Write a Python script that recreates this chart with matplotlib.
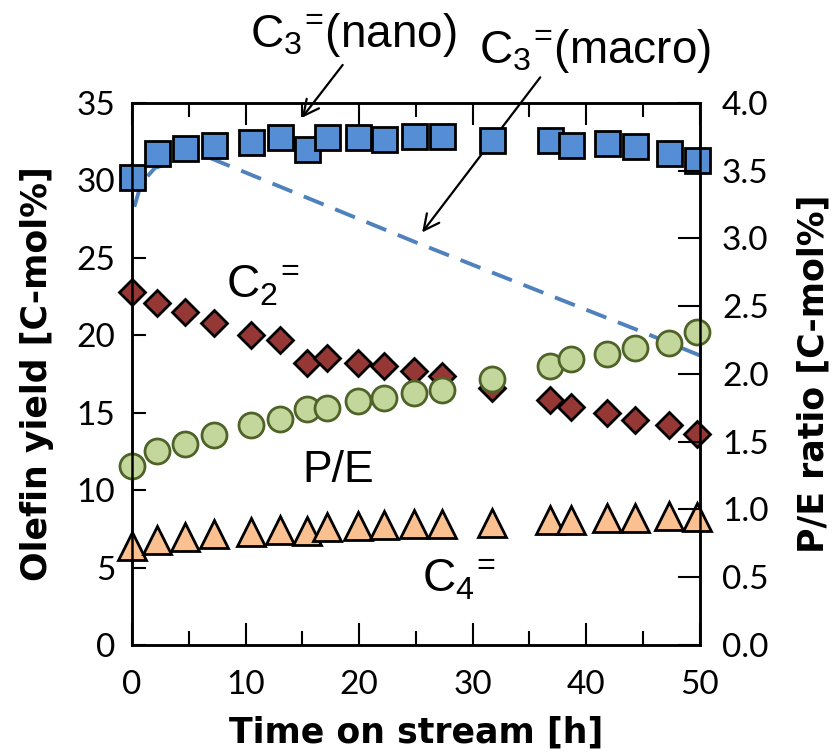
import numpy as np
import matplotlib
matplotlib.use('Agg')
import matplotlib.pyplot as plt
from matplotlib.ticker import MultipleLocator, FormatStrFormatter

plt.rcParams['font.family'] = ['Lato', 'DejaVu Sans']
plt.rcParams['mathtext.fontset'] = 'custom'
plt.rcParams['mathtext.rm'] = 'Liberation Sans'
plt.rcParams['mathtext.it'] = 'Liberation Sans'

# time on stream [h]
times = [0.0, 2.2, 4.7, 7.2, 10.5, 13.0, 15.4, 17.2, 19.9, 22.2,
         24.8, 27.3, 31.7, 36.8, 38.7, 41.8, 44.3, 47.3, 49.8]

# olefin yields [C-mol%]
c3_nano = [30.2, 31.8, 32.1, 32.3, 32.5, 32.8, 32.0, 32.8, 32.8, 32.7,
           32.9, 32.9, 32.6, 32.6, 32.3, 32.4, 32.2, 31.8, 31.3]
c2 = [22.8, 22.1, 21.5, 20.8, 20.0, 19.7, 18.2, 18.5, 18.2, 18.0,
      17.7, 17.4, 16.6, 15.8, 15.4, 15.0, 14.5, 14.2, 13.6]
c4 = [6.4, 6.8, 7.0, 7.15, 7.3, 7.4, 7.35, 7.6, 7.7, 7.75,
      7.8, 7.8, 7.9, 8.1, 8.1, 8.2, 8.2, 8.3, 8.25]

# P/E ratio (right axis)
pe_ratio = [1.32, 1.43, 1.48, 1.55, 1.62, 1.67, 1.74, 1.75, 1.80, 1.82,
            1.86, 1.88, 1.96, 2.06, 2.11, 2.15, 2.19, 2.23, 2.31]

# macro-catalyst C3= trend (dashed)
macro_t = [0.2, 0.8, 2.0, 4.0, 6.7, 25.0, 45.0, 50.0]
macro_c3 = [28.3, 29.8, 30.8, 31.3, 31.5, 26.0, 20.2, 18.7]

fig = plt.figure(figsize=(8.36, 7.54), dpi=100)
ax = fig.add_axes([0.158, 0.1446, 0.679, 0.7188])
ax2 = ax.twinx()

ax.plot(macro_t, macro_c3, color='#4F81BD', lw=2.8, dashes=(5.5, 3.2), zorder=2)
ax.plot(times, c2, ls='none', marker='D', ms=13, mfc='#953735', mec='black', mew=2,
        zorder=3, clip_on=False)
ax.plot(times, c4, ls='none', marker='^', ms=20, mfc='#FAC090', mec='black', mew=2,
        zorder=3, clip_on=False)
ax.plot(times, c3_nano, ls='none', marker='s', ms=18, mfc='#558ED5', mec='black', mew=2,
        zorder=4, clip_on=False)
ax2.plot(times, pe_ratio, ls='none', marker='o', ms=18, mfc='#C3D69B', mec='#4F6228',
         mew=2, clip_on=False)

ax.set_xlim(0, 50)
ax.set_ylim(0, 35)
ax2.set_ylim(0, 4.0)

ax.xaxis.set_major_locator(MultipleLocator(10))
ax.xaxis.set_minor_locator(MultipleLocator(5))
ax.yaxis.set_major_locator(MultipleLocator(5))
ax2.yaxis.set_major_locator(MultipleLocator(0.5))
ax2.yaxis.set_major_formatter(FormatStrFormatter('%.1f'))

ax.tick_params(axis='x', which='major', direction='in', length=16, width=1.5,
               top=True, labelsize=24, pad=18)
ax.tick_params(axis='x', which='minor', direction='in', length=10, width=1.5, top=True)
ax.tick_params(axis='y', which='major', direction='in', length=10, width=1.5,
               labelsize=24, pad=12)
# longer marks at multiples of 10 on the left axis
ax.set_yticks([10, 20, 30], minor=True)
ax.tick_params(axis='y', which='minor', direction='in', length=16, width=1.5)
ax2.tick_params(axis='y', direction='in', length=16, width=1.5, labelsize=24, pad=16)

for a in (ax, ax2):
    for sp in a.spines.values():
        sp.set_linewidth(1.8)

label_font = dict(fontsize=25, fontweight='bold', family='DejaVu Sans')
ax.set_xlabel('Time on stream [h]', labelpad=11, **label_font)
ax.set_ylabel('Olefin yield [C-mol%]', labelpad=16, **label_font)
ax2.set_ylabel('P/E ratio [C-mol%]', labelpad=20, rotation=90, **label_font)

ann = dict(fontsize=33, family='Liberation Sans')
sup_eq = r'$^{\!=\!}$'
ax.text(10.4, 38.6, r'C$_3$' + sup_eq + '(nano)', ha='left', va='baseline',
        clip_on=False, **ann)
ax.text(30.6, 37.6, r'C$_3$' + sup_eq + '(macro)', ha='left', va='baseline',
        clip_on=False, **ann)
ax.text(8.3, 22.4, r'C$_2$' + sup_eq, ha='left', va='baseline', **ann)
ax.text(15.0, 10.5, 'P/E', ha='left', va='baseline', fontsize=32, family='Liberation Sans')
ax.text(25.5, 3.4, r'C$_4$' + sup_eq, ha='left', va='baseline', **ann)

arrow = dict(arrowstyle='->', lw=1.6, color='black', mutation_scale=28)
ax.annotate('', xy=(14.8, 33.9), xytext=(18.7, 37.6), arrowprops=arrow,
            annotation_clip=False, zorder=5)
ax.annotate('', xy=(25.4, 26.5), xytext=(36.1, 36.8), arrowprops=arrow,
            annotation_clip=False, zorder=1)

fig.savefig('out.png', dpi=100)
